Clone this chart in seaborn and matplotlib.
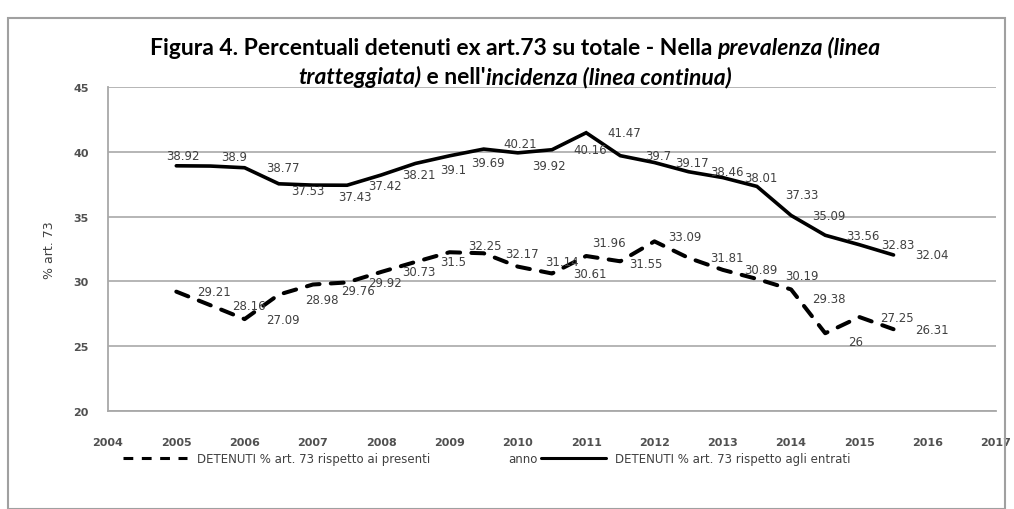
import matplotlib
matplotlib.use("Agg")
import matplotlib.pyplot as plt
from matplotlib.lines import Line2D
from matplotlib.patches import Rectangle
import pandas as pd
import seaborn as sns

# semestri (asse x in anni)
periodo = [2005.0, 2005.5, 2006.0, 2006.5, 2007.0, 2007.5, 2008.0, 2008.5,
           2009.0, 2009.5, 2010.0, 2010.5, 2011.0, 2011.5, 2012.0, 2012.5,
           2013.0, 2013.5, 2014.0, 2014.5, 2015.0, 2015.5]
presenti = [29.21, 28.16, 27.09, 28.98, 29.76, 29.92, 30.73, 31.5, 32.25, 32.17, 31.14,
            30.61, 31.96, 31.55, 33.09, 31.81, 30.89, 30.19, 29.38, 26, 27.25, 26.31]
entrati = [38.92, 38.9, 38.77, 37.53, 37.43, 37.42, 38.21, 39.1, 39.69, 40.21, 39.92,
           40.16, 41.47, 39.7, 39.17, 38.46, 38.01, 37.33, 35.09, 33.56, 32.83, 32.04]
anni_tick = list(range(2004, 2018))
y_tick = [20, 25, 30, 35, 40, 45]

lab_presenti = "DETENUTI % art. 73 rispetto ai presenti"
lab_entrati = "DETENUTI % art. 73 rispetto agli entrati"

# spostamenti delle etichette (pixel, dx a destra, dy in basso) dove non sono al posto standard
off_entrati = {0: (7, -10), 1: (24, -10), 3: (29, 7), 4: (42, 11), 7: (38, 6), 8: (38, 7),
               9: (36, -6), 10: (31, 13), 17: (45, 8)}
off_presenti = {3: (43, 5), 4: (45, 6), 8: (35, -7), 10: (44, -5), 12: (23, -13),
                13: (26, 2), 14: (30, -5), 17: (45, -3), 18: (38, 9), 19: (30, 8)}

sns.set_theme(style="white")
plt.rcParams['font.family'] = ['DejaVu Sans']

W, H = 1014, 510
fig = plt.figure(figsize=(W / 100, H / 100), dpi=100)
ax = fig.add_axes([108 / W, 1 - 412 / H, (996 - 108) / W, (412 - 88) / H])

df = pd.DataFrame({'anno': periodo, 'presenti': presenti, 'entrati': entrati})
sns.lineplot(data=df, x='anno', y='presenti', ax=ax, color='black', lw=2.9,
             linestyle=(0, (3.2, 2.8)), dash_capstyle='round')
sns.lineplot(data=df, x='anno', y='entrati', ax=ax, color='black', lw=2.6,
             solid_joinstyle='miter')

lab_col = '#404040'


def etichette(vals, offs):
    for i, (xv, yv) in enumerate(zip(periodo, vals)):
        dx, dy = offs.get(i, (38, 0))
        ax.annotate(f"{yv:g}", (xv, yv), xytext=(dx * 0.72, -dy * 0.72),
                    textcoords='offset points', ha='center', va='center',
                    fontsize=8.5, color=lab_col)


etichette(presenti, off_presenti)
etichette(entrati, off_entrati)

ax.set_xlim(2004, 2017)
ax.set_ylim(20, 45)
ax.set_xticks(anni_tick)
ax.set_yticks(y_tick)
ax.tick_params(axis='both', length=0, labelsize=8, labelcolor='#505050', pad=14)
ax.tick_params(axis='x', pad=19)
for lbl in ax.get_xticklabels() + ax.get_yticklabels():
    lbl.set_fontweight('bold')
ax.grid(axis='y', color='#b0b0b0', lw=1.3)
ax.grid(axis='x', visible=False)
for s in ['top', 'right']:
    ax.spines[s].set_visible(False)
for s in ['left', 'bottom']:
    ax.spines[s].set_color('#a8a8a8')
    ax.spines[s].set_linewidth(1.3)
ax.set_xlabel('')
ax.set_ylabel('% art. 73', fontsize=9, color=lab_col, labelpad=12)

# legenda
handles = [Line2D([], [], color='black', lw=2.2, linestyle=(0, (3.2, 2.8))),
           Line2D([], [], color='none'),
           Line2D([], [], color='black', lw=2.2)]
fig.legend(handles, [lab_presenti, 'anno', lab_entrati], loc='center',
           bbox_to_anchor=(0.48, 1 - 460 / H), ncol=3, frameon=False,
           fontsize=8.5, handlelength=5.5, columnspacing=0.3, handletextpad=0.8,
           labelcolor=lab_col)

# titolo con parti in corsivo
runs1 = [("Figura 4. Percentuali detenuti ex art.73 su totale - Nella ", 'normal'),
         ("prevalenza (linea", 'italic')]
runs2 = [("tratteggiata)", 'italic'), (" e nell'", 'normal'),
         ("incidenza (linea continua)", 'italic')]
tfam = ['Lato', 'DejaVu Sans']
tsize = 16.5
renderer = fig.canvas.get_renderer()


def width_of(s, style):
    a = fig.text(0, 0, "|" + s + "|", fontsize=tsize, fontweight='bold', fontstyle=style, family=tfam)
    b = fig.text(0, 0, "||", fontsize=tsize, fontweight='bold', fontstyle=style, family=tfam)
    w = a.get_window_extent(renderer).width - b.get_window_extent(renderer).width
    a.remove()
    b.remove()
    return w


def draw_runs(runs, ybase, xc):
    ws = [width_of(s, st) for s, st in runs]
    x = xc - sum(ws) / 2
    for (s, st), w in zip(runs, ws):
        fig.text(x / W, 1 - ybase / H, s, fontsize=tsize, fontweight='bold', fontstyle=st,
                 family=tfam, ha='left', va='baseline', color='black')
        x += w


draw_runs(runs1, 55, 515)
draw_runs(runs2, 84, 515)

fig.patches.append(Rectangle((8 / W, 0), (1005 - 8) / W, 1 - 19 / H, transform=fig.transFigure,
                             fill=False, edgecolor='#a0a0a0', lw=1.5))

fig.savefig('out.png', dpi=100)
